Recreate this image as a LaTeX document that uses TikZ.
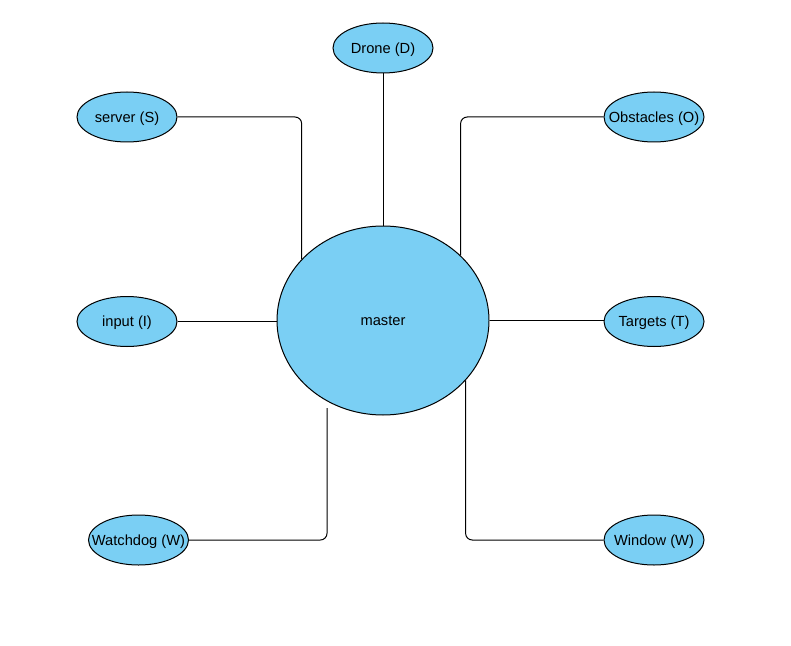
\documentclass[tikz,border=0pt]{standalone}
\usetikzlibrary{shapes.geometric}
\usepackage{fontspec}
\setmainfont{Liberation Sans}
\definecolor{nodeblue}{HTML}{7ACFF4}
\begin{document}
\begin{tikzpicture}[x=0.75pt,y=-0.75pt,
  small/.style={ellipse,draw=black,fill=nodeblue,line width=0.75pt,minimum width=75pt,minimum height=37.5pt,inner xsep=-15pt,inner ysep=0pt,text depth=0pt,font=\fontsize{11pt}{13pt}\selectfont},
  big/.style={ellipse,draw=black,fill=nodeblue,line width=0.75pt,minimum width=159pt,minimum height=141.75pt,inner sep=0pt,text depth=0pt,font=\fontsize{11pt}{13pt}\selectfont},
  conn/.style={draw=black,line width=0.75pt,rounded corners=5pt}]
\useasboundingbox (0,0) rectangle (791,645);
\node[big] (m) at (383,320.5) {master};
\node[small] (d) at (383,48) {Drone (D)};
\node[small] (s) at (127,117) {server (S)};
\node[small] (o) at (654,117) {Obstacles (O)};
\node[small] (i) at (127,321.5) {input (I)};
\node[small] (t) at (654,321.5) {Targets (T)};
\node[small] (w) at (138.5,540) {Watchdog (W)};
\node[small] (win) at (654,540) {Window (W)};
\coordinate (sm) at (m.143.9);
\coordinate (om) at (m.40.9);
\coordinate (wm) at (m.-36.1);
\coordinate (wend) at (327,408);
\draw[conn] (d.south) -- (m.north);
\draw[conn] (s.east) -| (sm);
\draw[conn] (o.west) -| (om);
\draw[conn] (i.east) -- (i.east -| m.west);
\draw[conn] (m.east) -- (m.east -| t.west);
\draw[conn] (w.east) -| (wend);
\draw[conn] (win.west) -| (wm);
\end{tikzpicture}
\end{document}
